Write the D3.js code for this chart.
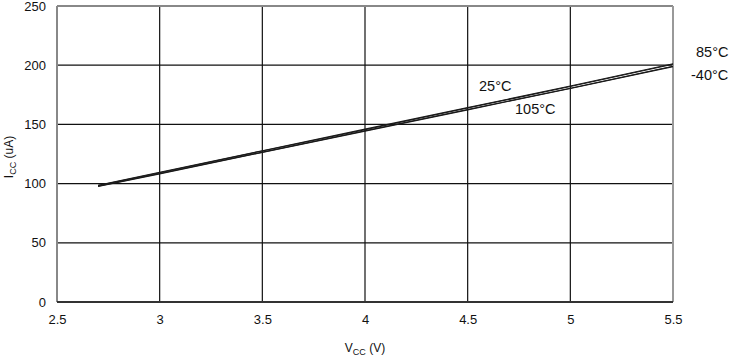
<!DOCTYPE html>
<html><head><meta charset="utf-8">
<script src="https://cdn.jsdelivr.net/npm/d3@7"></script>
<style>body{margin:0;background:#fff}svg text{font-family:"Liberation Sans",Arial,sans-serif;fill:#111}</style>
</head><body><svg id="c" width="733" height="357"></svg>
<script>
const vcc = [2.7, 3, 3.5, 4, 4.5, 5, 5.5];
const iccM40 = [97.5, 108.2, 126.3, 144.3, 162.3, 180.3, 198.8];
const icc25 = [98.3, 109.2, 127.5, 145.5, 163.8, 182, 200.8];
const icc85 = [98.6, 109.6, 127.8, 146, 164.2, 182.4, 201.2];
const icc105 = [97.7, 108.5, 126.6, 144.6, 162.6, 180.6, 199.1];
const xTicks = [2.5, 3, 3.5, 4, 4.5, 5, 5.5];
const yTicks = [0, 50, 100, 150, 200, 250];
const series = [iccM40, icc25, icc85, icc105];

const svg = d3.select("#c");
const L = 57, R = 673, T = 6, B = 302;
const x = d3.scaleLinear().domain([2.5, 5.5]).range([L, R]);
const y = d3.scaleLinear().domain([0, 250]).range([B, T]);

const g = svg.append("g");
g.selectAll("line.v").data(xTicks.slice(1, -1)).join("line")
  .attr("x1", d => x(d)).attr("x2", d => x(d)).attr("y1", T).attr("y2", B)
  .attr("stroke", "#111").attr("stroke-width", 1.2);
g.selectAll("line.h").data(yTicks.slice(1, -1)).join("line")
  .attr("x1", L).attr("x2", R).attr("y1", d => y(d)).attr("y2", d => y(d))
  .attr("stroke", "#111").attr("stroke-width", 1.2);
g.append("line").attr("x1", L).attr("x2", R).attr("y1", T).attr("y2", T).attr("stroke", "#888").attr("stroke-width", 2);
g.append("line").attr("x1", L).attr("x2", L).attr("y1", T).attr("y2", B).attr("stroke", "#888").attr("stroke-width", 2);
g.append("line").attr("x1", R).attr("x2", R).attr("y1", T).attr("y2", B).attr("stroke", "#999").attr("stroke-width", 2);
g.append("line").attr("x1", L).attr("x2", R).attr("y1", B).attr("y2", B).attr("stroke", "#333").attr("stroke-width", 2);

const xa = d3.axisBottom(x).tickValues(xTicks).tickSize(0).tickFormat(d3.format(""));
svg.append("g").attr("transform", `translate(0,${B + 10})`).call(xa)
  .call(s => s.select(".domain").remove())
  .selectAll("text").attr("font-size", 13).style("font-family", "Liberation Sans, Arial");
const ya = d3.axisLeft(y).tickValues(yTicks).tickSize(0).tickPadding(11);
svg.append("g").attr("transform", `translate(${L},0)`).call(ya)
  .call(s => s.select(".domain").remove())
  .selectAll("text").attr("font-size", 13).style("font-family", "Liberation Sans, Arial");

const line = d3.line().x((d, i) => x(vcc[i])).y(d => y(d));
svg.append("g").selectAll("path").data(series).join("path")
  .attr("d", d => line(d)).attr("fill", "none").attr("stroke", "#1a1a1a").attr("stroke-width", 1.1);

const lbl = [["85°C", 696, 57, "start"], ["-40°C", 691, 80, "start"], ["25°C", 479, 91, "start"], ["105°C", 515, 114, "start"]];
svg.append("g").selectAll("text").data(lbl).join("text")
  .attr("x", d => d[1]).attr("y", d => d[2]).attr("text-anchor", d => d[3]).attr("font-size", 14.5).text(d => d[0]);

const xt = svg.append("text").attr("x", 365).attr("y", 352).attr("text-anchor", "middle").attr("font-size", 12);
xt.append("tspan").text("V");
xt.append("tspan").attr("font-size", 9).attr("dy", 3).text("CC");
xt.append("tspan").attr("dy", -3).text(" (V)");
const yt = svg.append("text").attr("transform", "translate(13,157) rotate(-90)").attr("text-anchor", "middle").attr("font-size", 12);
yt.append("tspan").text("I");
yt.append("tspan").attr("font-size", 9).attr("dy", 3).text("CC");
yt.append("tspan").attr("dy", -3).text(" (uA)");
</script></body></html>
